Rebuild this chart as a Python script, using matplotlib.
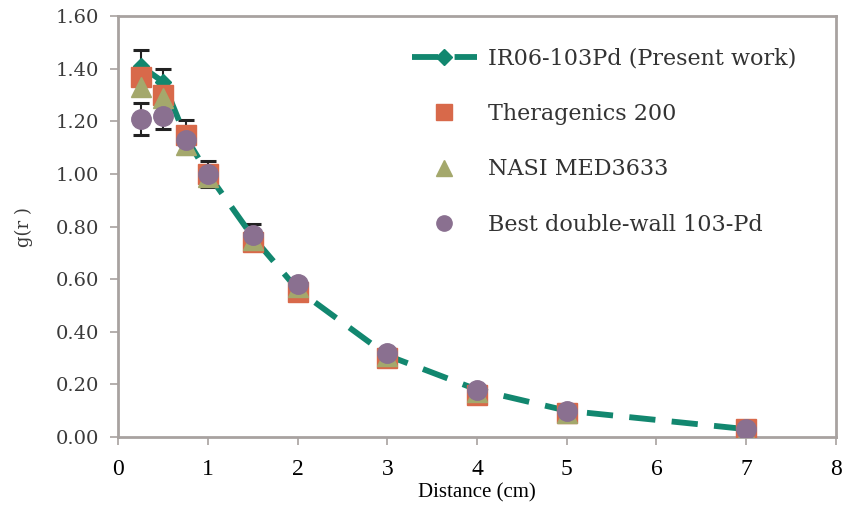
import numpy as np
import matplotlib.pyplot as plt

# radial dose function g(r) for several 103Pd seed models
distance = [0.25, 0.5, 0.75, 1.0, 1.5, 2.0, 3.0, 4.0, 5.0, 7.0]

g_ir06 = [1.41, 1.35, 1.14, 1.00, 0.76, 0.56, 0.31, 0.18, 0.10, 0.03]
g_ir06_err = [0.06, 0.05, 0.065, 0.05, 0.05, 0.0, 0.0, 0.0, 0.0, 0.0]

g_theragenics = [1.37, 1.30, 1.15, 1.00, 0.74, 0.55, 0.30, 0.16, 0.09, 0.03]
g_nasi = [1.33, 1.29, 1.11, 0.99, 0.75, 0.57, 0.31, 0.17, 0.09, 0.02]
g_best = [1.21, 1.22, 1.13, 1.00, 0.77, 0.58, 0.32, 0.18, 0.10, 0.03]
g_best_err = [0.06, 0.05, 0.0, 0.0, 0.0, 0.0, 0.0, 0.0, 0.0, 0.0]

labels = ['IR06-103Pd (Present work)', 'Theragenics 200',
          'NASI MED3633', 'Best double-wall 103-Pd']

x_ticks = [0, 1, 2, 3, 4, 5, 6, 7, 8]
y_ticks = [0.0, 0.2, 0.4, 0.6, 0.8, 1.0, 1.2, 1.4, 1.6]

teal = '#12876f'
orange = '#d8694a'
olive = '#a4a86c'
purple = '#8a7090'
spine_gray = '#a8a2a0'

plt.rcParams['font.family'] = ['Liberation Serif', 'DejaVu Serif']
wide_serif = ['DejaVu Serif']

fig = plt.figure(figsize=(8.46, 5.07), dpi=100)
ax = fig.add_axes([0.140, 0.138, 0.848, 0.830])

# error bars sit underneath the markers
ax.errorbar(distance, g_ir06, yerr=g_ir06_err, fmt='none', ecolor='#222222',
            elinewidth=1.5, capsize=6, capthick=2.2, zorder=1)
ax.errorbar(distance, g_best, yerr=g_best_err, fmt='none', ecolor='#222222',
            elinewidth=1.5, capsize=6, capthick=2.2, zorder=1)

ax.plot(distance, g_ir06, color=teal, lw=4.2, dashes=(4.5, 2.8),
        marker='D', ms=8, mec=teal, mfc=teal, label=labels[0], zorder=2)
ax.plot(distance, g_theragenics, ls='none', marker='s', ms=14,
        color=orange, label=labels[1], zorder=3)
ax.plot(distance, g_nasi, ls='none', marker='^', ms=14,
        color=olive, label=labels[2], zorder=4)
ax.plot(distance, g_best, ls='none', marker='o', ms=14,
        color=purple, label=labels[3], zorder=5)

ax.set_xlim(0, 8)
ax.set_ylim(0, 1.6)
ax.set_xticks(x_ticks)
ax.set_yticks(y_ticks)
ax.set_xticklabels([str(t) for t in x_ticks], fontsize=17)
ax.set_yticklabels([f'{t:.2f}' for t in y_ticks], fontsize=14,
                   color='#3a3a3a', family=wide_serif)
ax.tick_params(axis='both', direction='out', length=6, width=1.2,
               color=spine_gray)
ax.tick_params(axis='x', pad=10)
ax.tick_params(axis='y', pad=8)

for s in ax.spines.values():
    s.set_color(spine_gray)
    s.set_linewidth(2)

ax.set_xlabel('Distance (cm)', fontsize=15, labelpad=2)
ax.set_ylabel('g(r )', fontsize=13, labelpad=16, family=wide_serif,
              color='#3a3a3a')

leg = ax.legend(loc='upper right', bbox_to_anchor=(0.985, 0.994), frameon=False,
                prop={'family': wide_serif, 'size': 16},
                labelspacing=1.5, handlelength=2.9,
                handletextpad=0.5, borderaxespad=0.9)
for t in leg.get_texts():
    t.set_color('#333333')
for h in leg.legend_handles[1:]:
    h.set_markersize(11)

fig.savefig('out.png', dpi=100)
